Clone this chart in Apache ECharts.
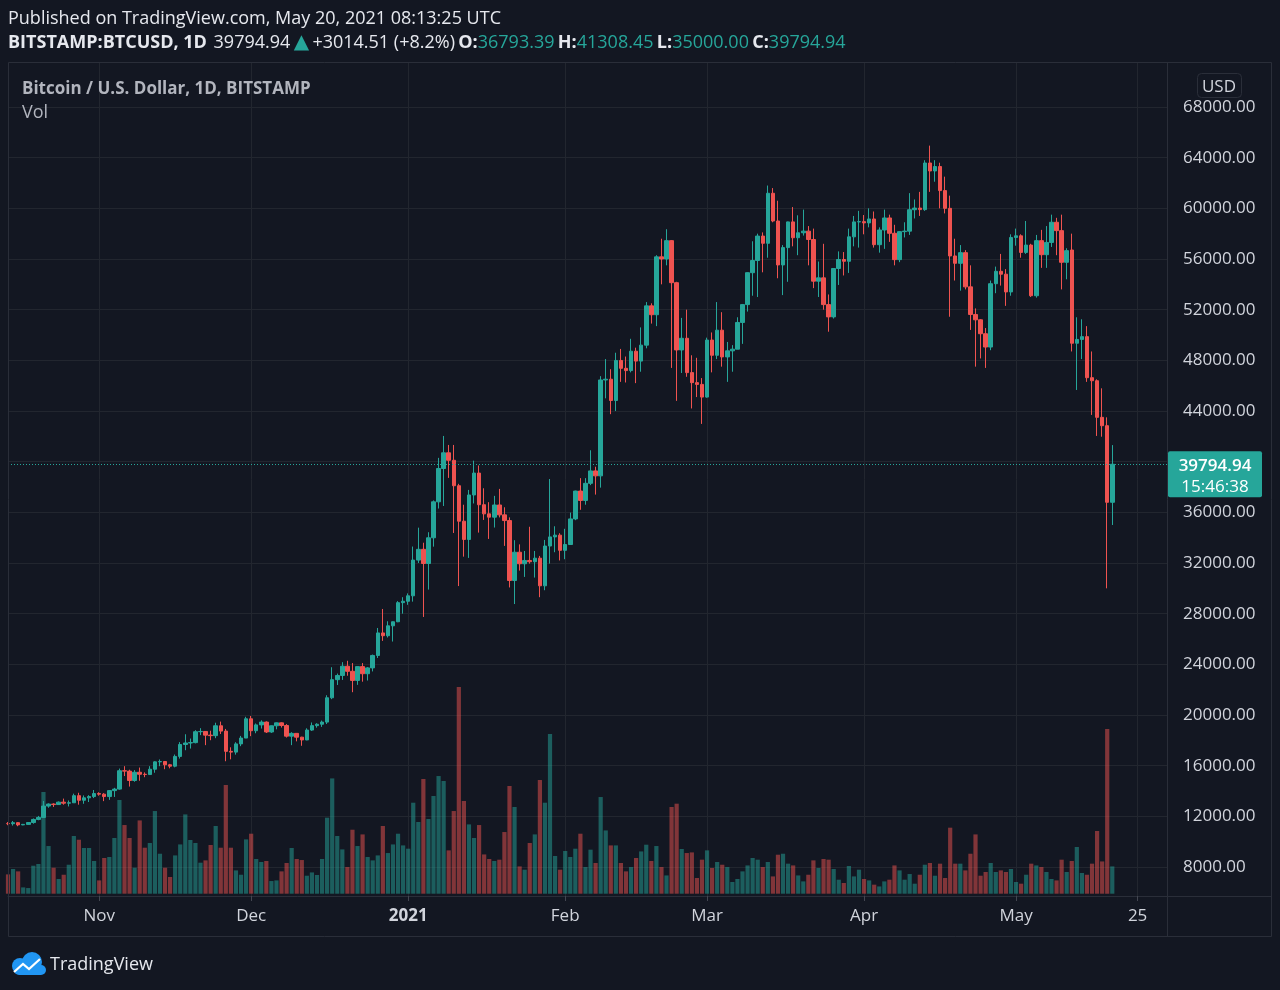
<!DOCTYPE html>
<html><head><meta charset="utf-8">
<script src="https://cdn.jsdelivr.net/npm/echarts@6/dist/echarts.min.js"></script>
<style>html,body{margin:0;padding:0;background:#131722;}#c{width:1280px;height:990px;}</style>
</head><body><div id="c"></div>
<script>
// ---- DATA (BITSTAMP:BTCUSD daily, 2020-10-14 .. 2021-05-20) ----
const startDate = '2020-10-14';
const totalSlots = 230; // axis runs to 2021-05-31
const opens = [
 11430,11420,11500,11325,11365,11510,11755,11915,12810,12970,12930,13120,13040,13070,13630,13270,13460,13560,
 13800,13750,13560,14030,14150,15600,15570,14830,15480,15320,15300,15720,16300,16330,16070,15960,16730,17670,17790,17820,18680,18700,18410,18370,19150,18730,17130,17070,17720,18180,
 19700,18760,19220,19440,18660,19150,19380,19170,18330,18550,18250,18030,18810,19160,19270,19440,21360,22790,23120,23850,23450,22730,23820,23260,23720,24700,26480,26260,27040,27360,28870,
 28980,29410,32230,33080,31960,33990,36830,39460,40700,40110,38100,35300,33860,37370,39100,36600,35880,35620,36580,35800,35350,30620,32850,31940,32200,32100,32380,30200,33340,34060,34200,
 33000,33460,35480,37680,36940,38290,39270,38880,46450,46510,44830,47990,47370,47190,48720,47940,49200,52300,51600,56170,56000,57450,54130,48820,49740,47030,46240,46100,
 45100,49600,48400,50380,48270,48750,48880,50990,52400,54920,55880,57810,57240,61190,59000,55530,56900,58930,57680,58070,58200,57540,54250,54510,52400,51430,55250,55960,55820,57750,58930,
 58950,58850,59160,57130,58290,59240,58030,55950,58160,58200,59890,60020,59900,63580,62950,63300,61400,60000,56240,55660,56500,53800,51620,51200,50100,49050,54050,55030,54800,53400,
 57700,57830,56520,57100,53100,57450,56340,57310,58900,58240,55740,56710,49350,49650,49870,46630,46390,43500,42840,36793.39
];
const highs = [
 11550,11630,11540,11400,11535,11830,12030,13210,13020,13030,13170,13400,13250,13790,13860,13650,13670,14080,
 13900,13830,14070,14250,15770,15960,15680,15650,15850,15470,15960,16340,16490,16340,16140,16880,17860,18480,18140,18800,18960,18720,18760,19390,19480,18900,17450,17850,18350,19860,
 19920,19330,19580,19500,19170,19410,19420,19280,18640,18560,18280,18950,19410,19350,19560,21560,23770,23270,24170,24280,24100,23840,24100,23790,24770,26870,28370,27400,27370,28990,29300,
 29600,33300,34790,33600,34430,36940,40300,42030,41320,41320,38250,36600,37770,40080,39700,37900,36800,37300,37850,36400,35600,33800,33470,32950,34860,32950,32560,33820,38630,34900,34350,
 34700,35980,37710,38700,38700,40900,39600,46750,48100,47300,48600,48900,48300,49700,49000,50600,52600,52500,56300,57600,58350,57500,54200,51350,52000,48400,48200,46600,
 49790,50200,52600,51800,49450,49200,51400,52450,54950,57400,58000,58100,61800,61600,60600,57100,58950,60100,59450,59900,58600,58400,55800,57200,53200,55250,56600,56550,58400,59400,59800,
 59470,60000,59750,58500,59900,59500,58700,58200,58900,61200,60700,61300,63800,64950,63800,63600,62500,61000,57600,57100,56700,55500,52100,51250,50550,54300,55400,56400,55200,57950,
 58400,57950,59000,57200,57900,58300,58600,59500,59250,59500,56850,58000,51400,51240,50700,48700,46500,45790,43500,41308.45
];
const lows = [
 11300,11270,11220,11300,11340,11420,11690,11900,12680,12740,12900,12920,12780,13060,12920,12990,13130,13440,
 13630,13200,13300,13530,14100,15180,14350,14730,14810,15090,15280,15440,15960,15720,15790,15870,16560,17220,17350,17760,18410,17620,18010,18170,18500,16350,16500,16870,17540,18180,
 18330,18560,18930,18580,18590,18870,19010,18220,17620,17920,17570,18010,18740,19000,19060,19290,21250,22370,22770,23100,21800,22380,22630,22720,23440,24500,25850,26120,25800,27330,28000,
 28700,28950,32000,27740,29900,33290,36300,36500,38720,34370,30180,32500,32400,36700,34400,35400,33900,34800,35600,33350,30070,28760,31400,30900,31950,30850,29300,29850,31950,32850,32200,
 32300,33420,35380,36200,36600,38150,37400,37950,45000,43750,44000,46300,46250,47050,46200,47100,48950,50900,50700,54000,55500,47400,44800,47000,46700,44200,45100,42980,
 45050,47050,48100,47500,46300,47100,48880,49300,51850,53100,53000,54950,56100,58900,54480,53150,54200,57000,56300,57850,55500,53700,53000,52000,50260,51300,53950,54700,54900,57000,56900,
 57950,58500,56900,56500,56800,57350,55500,55750,57700,57900,59200,59400,59800,61300,62100,60000,59600,51440,54300,53500,53600,50400,47500,48150,47400,48800,53300,53900,52300,53100,
 57050,56100,56400,53000,52950,55300,55300,56950,56300,53600,54400,48700,45660,48100,46300,43690,42030,41970,30000,35000
];
const closes = [
 11420,11500,11325,11365,11510,11755,11915,12810,12970,12930,13120,13040,13070,13630,13270,13460,13560,13800,
 13750,13560,14030,14150,15600,15570,14830,15480,15320,15300,15720,16300,16330,16070,15960,16730,17670,17790,17820,18680,18700,18410,18370,19150,18730,17130,17070,17720,18180,19700,
 18760,19220,19440,18660,19150,19380,19170,18330,18550,18250,18030,18810,19160,19270,19440,21360,22790,23120,23850,23450,22730,23820,23260,23720,24700,26480,26260,27040,27360,28870,28980,
 29410,32230,33080,31960,33990,36830,39460,40700,40110,38100,35300,33860,37370,39100,36600,35880,35620,36580,35800,35350,30620,32850,31940,32200,32100,32380,30200,33340,34060,34200,33000,
 33460,35480,37680,36940,38290,39270,38880,46450,46510,44830,47990,47370,47190,48720,47940,49200,52300,51600,56170,56000,57450,54130,48820,49740,47030,46240,46100,45100,
 49600,48400,50380,48270,48750,48880,50990,52400,54920,55880,57810,57240,61190,59000,55530,56900,58930,57680,58070,58200,57540,54250,54510,52400,51430,55250,55960,55820,57750,58930,58950,
 58850,59160,57130,58290,59240,58030,55950,58160,58200,59890,60020,59900,63580,62950,63300,61400,60000,56240,55660,56500,53800,51620,51200,50100,49050,54050,55030,54800,53400,57700,
 57830,56520,57100,53100,57450,56340,57310,58900,58240,55740,56660,49350,49650,49870,46630,46390,43500,42840,36793.39,39794.94
];
// volume, thousand BTC
const volumes = [
 2.76,3.53,3.19,0.9,0.81,4.0,4.24,14.53,6.81,3.71,2.1,2.71,4.14,8.24,7.71,6.53,6.53,4.67,
 1.9,5.1,5.24,7.96,13.39,9.81,7.96,3.71,10.47,6.57,7.24,11.81,5.71,3.71,2.39,5.47,7.04,11.33,7.67,7.24,4.43,4.76,6.96,9.67,6.57,15.53,6.57,3.33,2.71,7.76,
 8.57,4.96,4.53,4.67,1.81,1.9,3.19,4.39,6.53,4.96,4.81,2.57,3.04,2.67,4.96,10.86,16.47,8.24,6.33,3.81,9.14,6.81,8.47,5.24,4.76,5.47,9.67,5.81,7.04,8.57,6.9,
 6.43,13.0,10.24,16.39,10.67,13.96,16.81,16.1,6.19,11.81,29.53,13.24,9.9,7.96,9.81,5.61,4.96,4.67,4.86,8.81,15.39,12.39,3.9,3.43,7.24,8.47,16.24,13.0,22.81,5.39,3.43,
 6.1,5.24,6.43,8.57,3.81,6.29,4.39,13.81,9.04,6.9,6.9,4.39,3.19,3.81,5.1,6.04,7.0,4.67,6.81,3.81,2.61,12.39,12.86,6.39,5.81,5.9,2.24,4.86,
 6.19,3.67,4.53,4.14,3.81,1.67,2.1,3.19,4.04,5.1,4.86,3.81,4.53,2.47,5.57,5.71,4.29,4.04,2.61,1.76,2.71,4.76,3.67,4.96,4.86,3.53,2.0,1.53,3.96,2.47,3.43,
 2.1,1.9,1.29,1.04,1.76,2.0,4.04,3.33,2.0,2.81,1.43,2.71,4.14,4.39,2.57,4.29,2.24,9.43,4.29,4.29,3.33,5.71,8.47,2.57,3.1,4.39,3.1,3.33,3.1,3.53,
 1.67,1.43,2.71,4.29,4.04,3.81,3.1,2.1,1.9,4.86,3.1,4.67,6.67,2.96,2.71,4.29,8.96,4.61,23.53,3.9
];
const timeLabels = {'2020-11-01':'Nov','2020-12-01':'Dec','2021-01-01':'2021','2021-02-01':'Feb','2021-03-01':'Mar','2021-04-01':'Apr','2021-05-01':'May','2021-05-25':'25'};
const priceMin = 4000, priceMax = 72000, priceStep = 4000;
const lastInfo = {last: 39794.94, countdown: '15:46:38'};

// ---- build ----
const cats = [];
{ const d0 = new Date(startDate + 'T00:00:00Z');
  for (let i = 0; i < totalSlots; i++) { const d = new Date(d0.getTime() + i*86400000); cats.push(d.toISOString().slice(0,10)); } }
const candleData = opens.map((o,i)=>[o, closes[i], lows[i], highs[i]]);
const UP='#26a69a', DOWN='#ef5350';
const volData = volumes.map((v,i)=>({value:v, itemStyle:{color: closes[i]>=opens[i] ? 'rgba(38,166,154,0.5)' : 'rgba(239,83,80,0.5)'}}));

const FONT = '"Open Sans", "Noto Sans", sans-serif';
const GRID_COLOR = '#22262f';
const TXT = '#d1d4dc';
const HDR = '#e6e8ee';
// layout (pixels)
const gTop = 56.333, gH = 861.333, volBaseY = 893.7, volPx = 7;
const volMin = -((gTop+gH) - volBaseY)/volPx, volMax = (volBaseY - gTop)/volPx;
const isLab = (i) => Object.prototype.hasOwnProperty.call(timeLabels, cats[i]);

const chart = echarts.init(document.getElementById('c'), null, {renderer:'canvas'});
chart.setOption({
  animation:false,
  backgroundColor:'#131722',
  textStyle:{fontFamily:FONT},
  grid:[
    {left:8, right:112, top:gTop, height:gH},
    {left:8, right:112, top:63, bottom:94}
  ],
  xAxis:[
    {type:'category', gridIndex:0, data:cats, boundaryGap:false, show:false},
    {type:'category', gridIndex:1, data:cats, boundaryGap:false,
     axisLine:{show:true, lineStyle:{color:'#2a2e39'}},
     axisTick:{show:true, interval:(i)=>isLab(i), length:5, lineStyle:{color:'#434651'}},
     axisLabel:{interval:(i)=>isLab(i), margin:12, color:TXT, fontSize:17, fontFamily:FONT,
       formatter:(v)=> timeLabels[v]==='2021' ? '{y|2021}' : (timeLabels[v]||''),
       rich:{y:{fontWeight:'bold', fontSize:17, color:TXT, fontFamily:FONT}}},
     splitLine:{show:true, interval:(i)=>isLab(i), lineStyle:{color:GRID_COLOR, width:1}}}
  ],
  yAxis:[
    {type:'value', gridIndex:0, position:'right', min:priceMin, max:priceMax, interval:priceStep,
     axisLine:{show:false}, axisTick:{show:false},
     axisLabel:{formatter:(v)=>v.toFixed(2), showMinLabel:false, showMaxLabel:false, color:TXT, fontSize:17, margin:15, align:'left', fontFamily:FONT, padding:[2,0,0,0]},
     splitLine:{show:true, showMinLine:false, showMaxLine:false, lineStyle:{color:GRID_COLOR, width:1}}},
    {type:'value', gridIndex:0, min:volMin, max:volMax, show:false, splitLine:{show:false}},
    {type:'value', gridIndex:1, min:0, max:1, show:false, splitLine:{show:false}}
  ],
  series:[
    {type:'bar', name:'Vol', xAxisIndex:0, yAxisIndex:1, data:volData, barWidth:4.2, silent:true},
    {type:'candlestick', name:'BTCUSD', xAxisIndex:0, yAxisIndex:0, data:candleData, barWidth:4,
     itemStyle:{color:UP, color0:DOWN, borderColor:UP, borderColor0:DOWN, borderWidth:1},
     markLine:{silent:true, symbol:'none', label:{show:false},
       lineStyle:{color:UP, type:[1,2], width:1},
       data:[{yAxis: closes[closes.length-1]}]}}
  ]
});

// header + decorations
const lastY = chart.convertToPixel({yAxisIndex:0}, closes[closes.length-1]);
chart.setOption({graphic:[
  {type:'rect', shape:{x:8.5, y:62.5, width:1263, height:874}, style:{fill:null, stroke:'#2a2e39', lineWidth:1}, z:100, silent:true},
  {type:'line', shape:{x1:1167.5, y1:63, x2:1167.5, y2:936}, style:{stroke:'#2a2e39', lineWidth:1}, z:100, silent:true},
  {type:'line', shape:{x1:1167, y1:896.5, x2:1272, y2:896.5}, style:{stroke:'#2a2e39', lineWidth:1}, z:100, silent:true},
  {type:'text', x:8, y:19, style:{text:'Published on TradingView.com, May 20, 2021 08:13:25 UTC', fill:HDR, font:'18px '+FONT, verticalAlign:'middle'}},
  {type:'text', x:8, y:43, style:{
     text:'{b|BITSTAMP:BTCUSD, 1D}  {w|39794.94} {t|▲} {w|+3014.51 (+8.2%)} {b|O:}{g|36793.39} {b|H:}{g|41308.45} {b|L:}{g|35000.00} {b|C:}{g|39794.94}',
     verticalAlign:'middle',
     rich:{b:{fontWeight:'bold', fill:HDR, fontSize:18, fontFamily:FONT}, w:{fill:HDR, fontSize:18, fontFamily:FONT}, g:{fill:UP, fontSize:18, fontFamily:FONT},
           t:{fill:UP, fontSize:20, fontFamily:'"DejaVu Sans", sans-serif'}}}},
  {type:'text', x:22, y:89, style:{text:'Bitcoin / U.S. Dollar, 1D, BITSTAMP', fill:'#b2b5be', font:'bold 17px '+FONT, verticalAlign:'middle'}},
  {type:'text', x:22, y:113, style:{text:'Vol', fill:'#b2b5be', font:'18px '+FONT, verticalAlign:'middle'}},
  {type:'rect', shape:{x:1197.5, y:73.5, width:44, height:24, r:4}, style:{fill:null, stroke:'#2a2e39', lineWidth:1}},
  {type:'text', x:1219, y:87, style:{text:'USD', fill:TXT, font:'17px '+FONT, align:'center', verticalAlign:'middle'}},
  {type:'group', x:1168, y:lastY, z:200, children:[
    {type:'rect', z:200, shape:{x:0, y:-13, width:94, height:46, r:2}, style:{fill:UP}},
    {type:'text', z:201, x:47, y:2, style:{text:lastInfo.last.toFixed(2), fill:'#ffffff', font:'600 17px '+FONT, align:'center', verticalAlign:'middle'}},
    {type:'text', z:201, x:47, y:23, style:{text:lastInfo.countdown, fill:'#ffffff', font:'17px '+FONT, align:'center', verticalAlign:'middle'}}
  ]},
  {type:'group', x:10, y:951, children:[
    {type:'circle', shape:{cx:10, cy:15, r:8}, style:{fill:'#2196f3'}},
    {type:'circle', shape:{cx:22, cy:11, r:10}, style:{fill:'#2196f3'}},
    {type:'rect', shape:{x:4, y:14, width:32, height:10, r:5}, style:{fill:'#2196f3'}},
    {type:'polyline', shape:{points:[[4,21],[13,13],[19,18],[30,8]]}, style:{stroke:'#ffffff', lineWidth:2.2, fill:null}}
  ]},
  {type:'text', x:50, y:965, style:{text:'TradingView', fill:HDR, font:'18px '+FONT, verticalAlign:'middle'}}
]});
</script></body></html>
